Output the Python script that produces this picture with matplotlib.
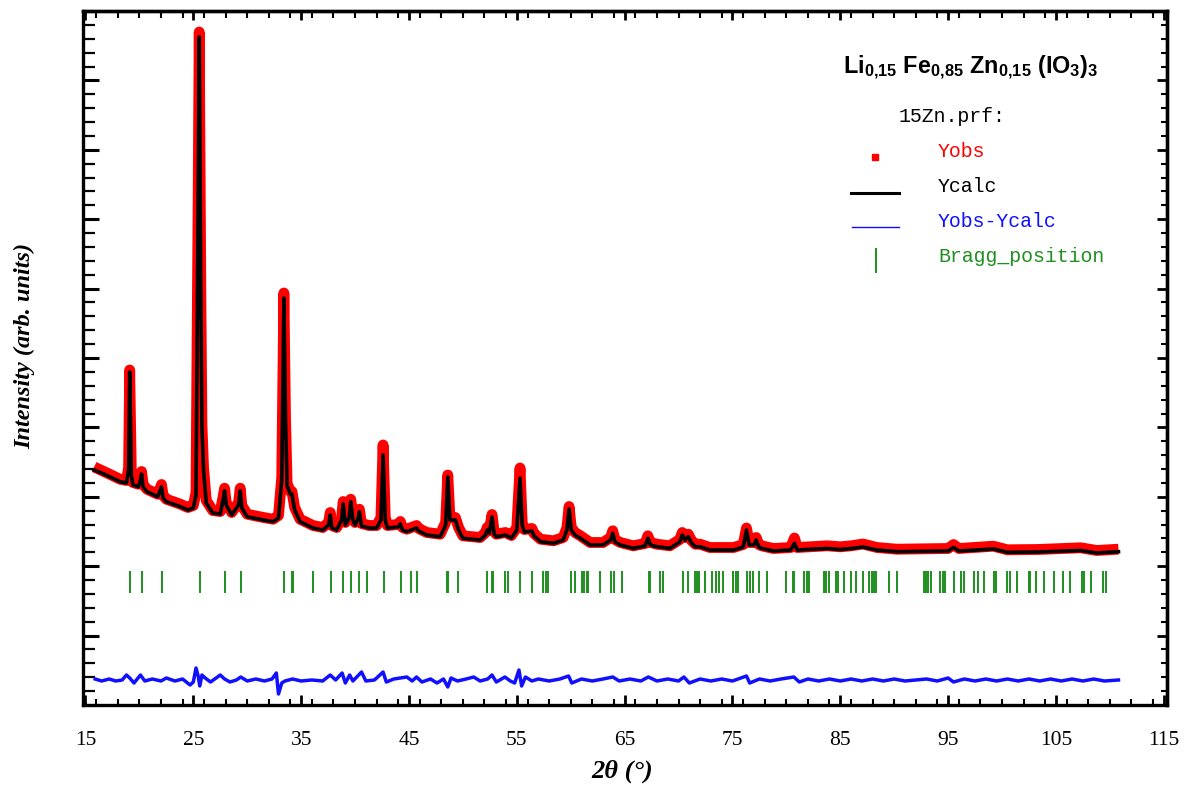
import matplotlib
matplotlib.use("Agg")
import matplotlib.pyplot as plt
from matplotlib.ticker import FixedLocator, MultipleLocator
from matplotlib.lines import Line2D
import numpy as np

plt.rcParams['font.family'] = ['Liberation Serif', 'DejaVu Serif']
plt.rcParams['mathtext.fontset'] = 'custom'
plt.rcParams['mathtext.rm'] = 'Liberation Sans'
plt.rcParams['mathtext.bf'] = 'Liberation Sans:bold'
plt.rcParams['mathtext.it'] = 'Liberation Sans:italic'

# ---------------- data ----------------
tth = [15.8, 16.5, 17.3, 18.2, 18.8, 19.0, 19.1, 19.25, 19.4, 19.9, 20.1, 20.2, 20.35,
       20.7, 21.7, 21.95, 22.05, 22.2, 22.5, 23.8, 24.5, 25.0, 25.25, 25.45, 25.55,
       25.7, 25.8, 25.95, 26.2, 26.8, 27.5, 27.75, 27.9, 28.05, 28.56, 29.2, 29.35,
       29.5, 30.0, 31.5, 32.4, 32.9, 33.2, 33.4, 33.55, 33.7, 34.0, 34.15, 34.4, 34.9,
       36.1, 37.0, 37.55, 37.7, 37.85, 38.3, 38.75, 38.9, 39.1, 39.45, 39.6, 39.8,
       40.0, 40.3, 40.4, 40.6, 41.3, 42.0, 42.4, 42.6, 42.8, 43.0, 44.0, 44.2, 44.4,
       44.8, 45.7, 45.9, 46.65, 47.9, 48.4, 48.6, 48.8, 49.3, 49.6, 50.0, 51.6, 52.1,
       52.25, 52.45, 52.7, 52.9, 53.1, 53.95, 54.5, 55.0, 55.3, 55.5, 55.7, 56.4,
       56.6, 57.2, 58.4, 59.3, 59.65, 59.85, 60.05, 60.4, 60.9, 61.8, 63.0, 63.7,
       63.9, 64.1, 64.6, 65.8, 66.9, 67.15, 67.4, 68.0, 69.2, 70.1, 70.35, 70.6,
       70.9, 71.2, 71.55, 72.0, 72.9, 75.1, 76.0, 76.3, 76.55, 77.0, 77.2, 77.45,
       77.7, 78.8, 80.4, 80.75, 81.0, 83.8, 85.0, 86.0, 87.1, 88.4, 90.25, 95.0,
       95.5, 96.0, 99.2, 100.5, 103.3, 107.3, 108.8, 110.8]

ycalc = [2350, 2320, 2280, 2233, 2220, 2350, 3330, 2300, 2200, 2183, 2250, 2310, 2180,
         2133, 2083, 2150, 2180, 2070, 2033, 1983, 1950, 1970, 2100, 5050, 6680,
         4050, 2780, 2350, 2020, 1920, 1910, 2050, 2143, 2000, 1900, 2000, 2143,
         1970, 1883, 1850, 1833, 1870, 2250, 4070, 2850, 2190, 2110, 2110, 1950, 1833,
         1770, 1750, 1800, 1900, 1770, 1750, 1850, 2010, 1800, 1870, 2033, 1850,
         1800, 1870, 1933, 1790, 1770, 1770, 1850, 2500, 1850, 1770, 1780, 1810, 1750,
         1733, 1770, 1740, 1700, 1683, 1800, 2280, 1850, 1850, 1750, 1667, 1650, 1700,
         1750, 1720, 1880, 1710, 1683, 1700, 1670, 1750, 2270, 1800, 1730, 1740,
         1690, 1633, 1617, 1650, 1750, 1960, 1750, 1700, 1667, 1600, 1600, 1650,
         1717, 1630, 1600, 1567, 1590, 1667, 1600, 1583, 1567, 1630, 1700, 1650,
         1683, 1620, 1583, 1583, 1550, 1550, 1580, 1750, 1600, 1600, 1650, 1580,
         1567, 1540, 1550, 1617, 1550, 1565, 1555, 1565, 1580, 1550, 1533, 1540,
         1575, 1540, 1560, 1527, 1530, 1545, 1520, 1533]

yobs = [2380, 2345, 2305, 2258, 2245, 2375, 3350, 2325, 2225, 2208, 2275, 2335, 2205,
        2158, 2108, 2175, 2205, 2095, 2058, 2008, 1975, 1995, 2125, 5075, 6730,
        4075, 2805, 2375, 2045, 1945, 1935, 2075, 2168, 2025, 1925, 2025, 2168,
        1995, 1908, 1875, 1858, 1895, 2275, 4120, 2875, 2215, 2135, 2135, 1975, 1858,
        1795, 1775, 1825, 1925, 1795, 1775, 1875, 2035, 1825, 1895, 2058, 1875,
        1825, 1895, 1958, 1815, 1795, 1795, 1875, 2600, 1875, 1795, 1805, 1835, 1775,
        1758, 1795, 1765, 1725, 1708, 1825, 2300, 1875, 1875, 1775, 1692, 1675, 1725,
        1775, 1745, 1905, 1735, 1708, 1725, 1695, 1775, 2370, 1825, 1755, 1765,
        1715, 1658, 1642, 1675, 1775, 1985, 1775, 1725, 1692, 1625, 1625, 1675,
        1742, 1655, 1625, 1592, 1615, 1692, 1625, 1608, 1592, 1655, 1725, 1675,
        1708, 1645, 1608, 1608, 1575, 1575, 1605, 1770, 1625, 1625, 1675, 1605,
        1592, 1565, 1575, 1670, 1575, 1592, 1582, 1592, 1610, 1575, 1558, 1565,
        1605, 1565, 1588, 1552, 1555, 1572, 1545, 1558]

tth_diff = [15.9, 16.5, 17.2, 17.8, 18.4, 18.8, 19.1, 19.5, 20.1, 20.5, 21.2, 22.0,
            22.5, 23.3, 24.0, 24.7, 25.0, 25.25, 25.45, 25.6, 25.8, 26.1, 26.6, 27.5,
            27.9, 28.4, 29.0, 29.4, 30.0, 30.8, 31.6, 32.3, 32.7, 32.9, 33.2, 33.5,
            34.2, 35.0, 36.0, 37.0, 37.7, 38.2, 38.8, 39.1, 39.5, 39.8, 40.6, 41.0,
            41.8, 42.6, 42.9, 43.6, 44.8, 45.3, 45.7, 46.2, 47.0, 47.6, 48.2, 48.6,
            48.9, 49.5, 50.3, 51.0, 51.6, 52.3, 52.7, 53.1, 53.9, 54.4, 54.8, 55.2,
            55.45, 55.8, 56.4, 57.0, 58.0, 59.0, 59.8, 60.1, 61.0, 62.0, 63.0, 63.9,
            64.5, 65.5, 66.5, 67.2, 68.0, 69.0, 70.0, 70.5, 71.0, 72.0, 73.0, 74.0,
            75.0, 76.3, 76.6, 77.5, 78.5, 79.5, 80.7, 81.2, 82.0, 83.0, 84.0, 85.0,
            86.0, 87.0, 88.0, 89.0, 90.0, 91.0, 92.0, 93.0, 94.0, 95.0, 95.5, 96.5,
            97.5, 98.5, 99.5, 100.5, 101.5, 102.5, 103.5, 104.5, 105.5, 106.5, 107.5,
            108.5, 109.5, 110.8]

ydiff = [260, 240, 260, 240, 250, 300, 270, 220, 300, 240, 260, 240,
         270, 240, 260, 200, 230, 370, 290, 190, 300, 270, 230, 300,
         260, 230, 250, 280, 240, 260, 240, 260, 320, 110, 220, 240,
         260, 240, 250, 240, 300, 250, 320, 220, 300, 240, 330, 240,
         250, 330, 230, 260, 280, 240, 280, 230, 260, 220, 260, 180,
         270, 240, 260, 280, 240, 260, 300, 230, 280, 240, 220, 350,
         190, 280, 240, 260, 240, 260, 290, 220, 260, 240, 260, 280,
         240, 260, 240, 280, 240, 260, 240, 280, 220, 260, 240, 260,
         240, 290, 220, 260, 240, 260, 280, 230, 260, 240, 260, 240,
         260, 240, 260, 240, 260, 240, 250, 260, 240, 270, 230, 260,
         240, 260, 240, 260, 240, 260, 240, 260, 240, 260, 240,
         260, 240, 250]

bragg = [19.13, 20.21, 22.07, 25.62, 27.94, 29.40, 33.44, 34.12, 34.25, 36.08, 37.77,
         38.91, 39.60, 40.40, 41.14, 42.69, 44.24, 45.19, 45.78, 48.55, 48.65, 49.53,
         52.22, 52.68, 52.80, 53.91, 54.22, 55.31, 56.39, 57.47, 57.72, 57.93, 60.01,
         60.41, 61.03, 61.24, 61.49, 61.64, 62.73, 63.72, 64.03, 64.74, 67.22, 67.32,
         68.29, 68.60, 70.45, 70.92, 71.54, 71.75, 71.94, 72.47, 73.14, 73.49, 73.79,
         74.16, 75.09, 75.34, 75.56, 76.33, 76.64, 76.95, 77.48, 78.19, 79.98, 80.60,
         80.72, 81.65, 81.96, 82.12, 83.51, 83.69, 83.91, 84.62, 84.83, 85.36, 85.98,
         86.47, 87.15, 87.68, 87.93, 88.14, 88.33, 89.56, 90.25, 92.78, 92.97, 93.18,
         93.40, 94.27, 94.48, 94.73, 95.56, 96.19, 96.49, 97.42, 97.73, 98.35, 99.28,
         99.47, 100.46, 100.76, 101.39, 102.46, 102.62, 103.18, 103.85, 104.85,
         105.65, 106.26, 107.41, 107.63, 108.25, 109.36, 109.67]

xticks_major = [15, 25, 35, 45, 55, 65, 75, 85, 95, 105, 115]
xtick_labels = ['15', '25', '35', '45', '55', '65', '75', '85', '95', '105', '115']

title_text = r'$\mathbf{Li_{0{,}15}\ Fe_{0{,}85}\ Zn_{0{,}15}\ (IO_3)_3}$'
legend_labels = ['Yobs', 'Ycalc', 'Yobs-Ycalc', 'Bragg_position']
file_label = '15Zn.prf:'

RED = '#ff0000'
BLACK = '#000000'
BLUE = '#1010ff'
GREEN = '#1f8f1f'

W, H = 1188, 787
fig = plt.figure(figsize=(W / 100, H / 100), dpi=100)
fig.patch.set_facecolor('white')
ax = fig.add_axes([83 / W, (H - 705) / H, (1167 - 83) / W, (705 - 11) / H])

ax.plot(tth, yobs, color=RED, lw=7.8, solid_joinstyle='round', solid_capstyle='butt', zorder=2)
ax.plot(tth, ycalc, color=BLACK, lw=2.6, solid_joinstyle='round', zorder=3)
ax.vlines(bragg, 1120, 1340, color=GREEN, lw=1.4, zorder=3)
ax.plot(tth_diff, ydiff, color=BLUE, lw=2.5, solid_joinstyle='round', zorder=3)

ax.set_xlim(14.77, 115.3)
ax.set_ylim(0, 6940)

ax.xaxis.set_major_locator(FixedLocator(xticks_major))
ax.set_xticklabels(xtick_labels)
ax.xaxis.set_minor_locator(MultipleLocator(2))
ax.yaxis.set_major_locator(MultipleLocator(694))
ax.yaxis.set_minor_locator(MultipleLocator(138.8))

ax.tick_params(axis='x', which='major', direction='in', length=7, width=2.0,
               labelsize=15.5, pad=19, top=False)
ax.tick_params(axis='x', which='minor', direction='in', length=4.5, width=1.5, top=False)
ax.tick_params(axis='y', which='major', direction='in', length=11.5, width=2.2,
               labelleft=False, right=False)
ax.tick_params(axis='y', which='minor', direction='in', length=8.5, width=1.6, right=False)

secx = ax.secondary_xaxis('top')
secx.xaxis.set_major_locator(FixedLocator(xticks_major))
secx.xaxis.set_minor_locator(MultipleLocator(2))
secx.tick_params(axis='x', which='major', direction='in', length=6.5, width=2.0, labeltop=False)
secx.tick_params(axis='x', which='minor', direction='in', length=5, width=1.5)
for s in secx.spines.values():
    s.set_linewidth(2.4)

secy = ax.secondary_yaxis('right')
secy.yaxis.set_major_locator(MultipleLocator(694))
secy.yaxis.set_minor_locator(MultipleLocator(138.8))
secy.tick_params(axis='y', which='major', direction='in', length=7, width=2.0, labelright=False)
secy.tick_params(axis='y', which='minor', direction='in', length=4.5, width=1.5)
for s in secy.spines.values():
    s.set_linewidth(2.4)

for s in ax.spines.values():
    s.set_linewidth(2.4)

# axis titles
fig.text(622 / W, 1 - 771 / H, '2θ (°)', ha='center', va='center', fontsize=19,
         fontweight='bold', fontstyle='italic')
fig.text(25 / W, 1 - 346 / H, 'Intensity (arb. units)', ha='center', va='center',
         rotation=90, fontsize=17.5, fontweight='bold', fontstyle='italic')

# legend block
fig.text(843 / W, 1 - 74 / H, title_text, ha='left', va='baseline', fontsize=16.8)
mono = dict(family=['Liberation Mono', 'DejaVu Sans Mono'], fontsize=14.3, ha='left', va='baseline')
fig.text(899 / W, 1 - 122 / H, file_label, color=BLACK, **mono)
text_colors = [RED, BLACK, BLUE, GREEN]
baselines = [157, 192, 227, 262]
for lab, col, yb in zip(legend_labels, text_colors, baselines):
    fig.text(938 / W, 1 - yb / H, lab, color=col, **mono)

fig.add_artist(Line2D([875 / W], [1 - 157 / H], marker='s', ms=4, color=RED, lw=0))
fig.add_artist(Line2D([851 / W, 899 / W], [1 - 193 / H, 1 - 193 / H], color=BLACK, lw=2.2))
fig.add_artist(Line2D([852 / W, 899 / W], [1 - 227 / H, 1 - 227 / H], color=BLUE, lw=1.0))
fig.add_artist(Line2D([876 / W, 876 / W], [1 - 249 / H, 1 - 272 / H], color=GREEN, lw=1.4))

fig.savefig('out.png', dpi=100, facecolor='white')
